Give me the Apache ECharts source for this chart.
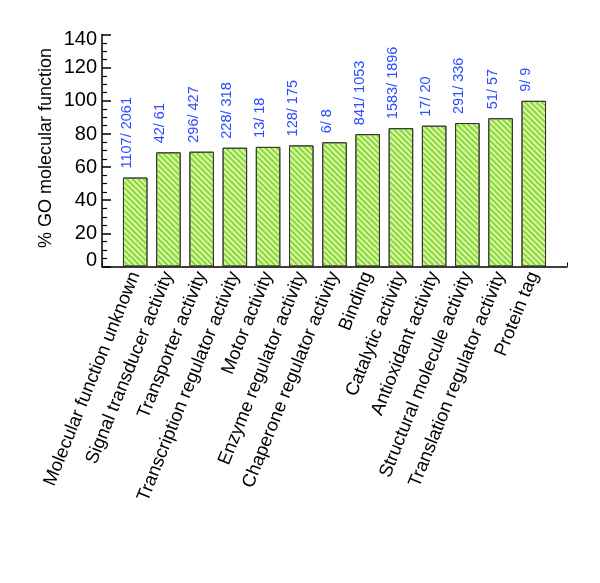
<!DOCTYPE html>
<html>
<head>
<meta charset="utf-8">
<script src="https://cdn.jsdelivr.net/npm/echarts@6/dist/echarts.min.js"></script>
<style>html,body{margin:0;padding:0;background:#fff}#c{width:600px;height:583px}</style>
</head>
<body>
<div id="c"></div>
<script>
const categories = ['Molecular function unknown','Signal transducer activity','Transporter activity','Transcription regulator activity','Motor activity','Enzyme regulator activity','Chaperone regulator activity','Binding','Catalytic activity','Antioxidant activity','Structural molecule activity','Translation regulator activity','Protein tag'];
const percents = [53.7, 68.9, 69.3, 71.7, 72.2, 73.1, 75.0, 79.9, 83.5, 85.0, 86.6, 89.5, 100];
const countLabels = ['1107/ 2061','42/ 61','296/ 427','228/ 318','13/ 18','128/ 175','6/ 8','841/ 1053','1583/ 1896','17/ 20','291/ 336','51/ 57','9/ 9'];
const yTicks = [0,20,40,60,80,100,120,140];

const axisCats = [''].concat(categories, ['']);
const barData = ['-'].concat(percents, ['-']);
const labelData = [''].concat(countLabels, ['']);
const font = 'Liberation Sans, Arial, Helvetica, sans-serif';

const chart = echarts.init(document.getElementById('c'), null, {renderer:'canvas'});
chart.setOption({
  animation: false,
  grid: {left: 102, right: 33, top: 34.6, bottom: 316.5, containLabel: false},
  xAxis: {
    type: 'category', data: axisCats, boundaryGap: false,
    axisLine: {lineStyle: {color: '#000', width: 1.5}},
    axisTick: {inside: true, length: 4, lineStyle: {color: '#000'}, interval: 0},
    axisLabel: {interval: 0, rotate: 68, color: '#000', fontSize: 18.5, fontFamily: font, margin: 6},
    splitLine: {show: false}
  },
  yAxis: {
    type: 'value', min: 0, max: 140, interval: 20,
    name: '% GO molecular function', nameLocation: 'middle', nameGap: 47, nameRotate: 90,
    nameMoveOverlap: false,
    nameTextStyle: {fontSize: 18, color: '#000', fontFamily: font, padding: [0,0,0,5]},
    axisLine: {show: true, lineStyle: {color: '#000', width: 1.5}},
    axisTick: {show: true, inside: true, length: 9, lineStyle: {color: '#000', width: 1.5}},
    minorTick: {show: true, splitNumber: 4, length: 5, lineStyle: {color: '#000', width: 1.2}},
    axisLabel: {color: '#000', fontSize: 20, fontFamily: font, margin: 5,
      formatter: function(v){ if (v === 0) return '{lo|0}'; if (v === 140) return '{hi|140}'; return String(v); },
      rich: {lo: {fontSize: 20, fontFamily: font, color:'#000', padding: [0,0,12,0]}, hi: {fontSize: 20, fontFamily: font, color:'#000', padding: [10,0,0,0]}}
    },
    splitLine: {show: false}
  },
  series: [{
    type: 'bar', data: barData, barWidth: 24.5,
    itemStyle: {
      color: '#dcf6b0', borderColor: '#333', borderWidth: 1,
      decal: {symbol: 'rect', symbolSize: 1, dashArrayX: [[1, 0]], dashArrayY: [1.5, 1.5], rotation: Math.PI/4, color: '#8ada34'}
    },
    label: {
      show: true, position: 'top', rotate: 90, align: 'left', verticalAlign: 'middle', distance: 9,
      offset: [0, -8], color: '#2b4dff', fontSize: 14.5, fontFamily: font,
      formatter: function(p){ return labelData[p.dataIndex]; }
    }
  }]
});
</script>
</body>
</html>
